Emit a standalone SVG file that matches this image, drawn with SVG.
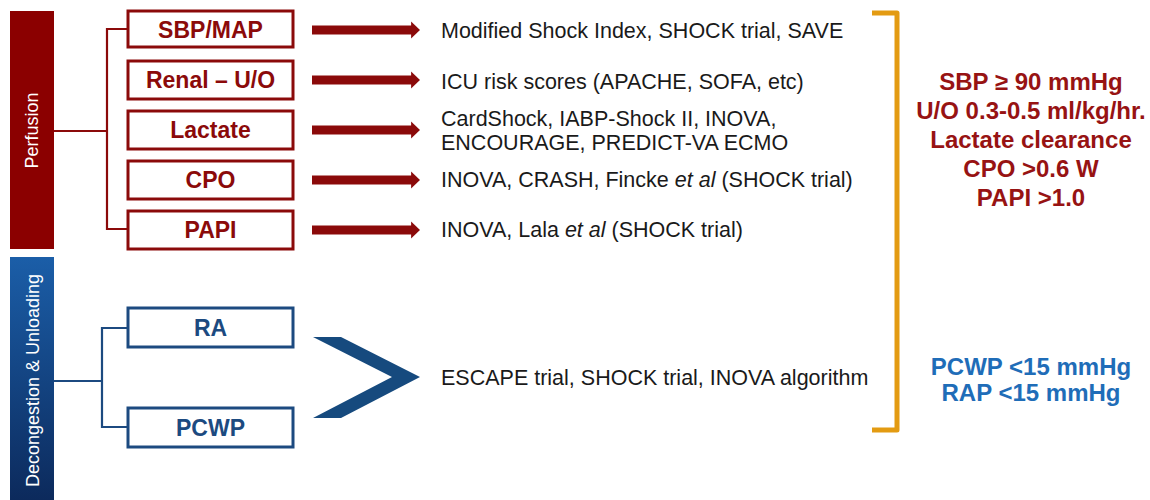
<svg xmlns="http://www.w3.org/2000/svg" width="1150" height="500" viewBox="0 0 1150 500">
  <defs>
    <linearGradient id="blueBar" x1="0" y1="0" x2="0" y2="1">
      <stop offset="0" stop-color="#1b5ea8"/>
      <stop offset="1" stop-color="#0c2a5c"/>
    </linearGradient>
    <marker id="redHead" viewBox="0 0 10 10" refX="1" refY="5" markerWidth="1" markerHeight="1.9" markerUnits="strokeWidth" orient="auto" preserveAspectRatio="none">
      <path d="M0,0 L10,5 L0,10 Z" fill="#8b0a0a"/>
    </marker>
    <style>
      .redBox { fill: #fff; stroke: #8b0a0a; stroke-width: 3; }
      .blueBox { fill: #fff; stroke: #1c4a80; stroke-width: 3; }
      .redLbl { font-family: "Liberation Sans", Arial, sans-serif; font-weight: bold; font-size: 23px; fill: #8b0a0a; text-anchor: middle; }
      .blueLbl { font-family: "Liberation Sans", Arial, sans-serif; font-weight: bold; font-size: 23px; fill: #1c4a80; text-anchor: middle; }
      .ref { font-family: "Liberation Sans", Arial, sans-serif; font-size: 21.5px; fill: #1a1a1a; }
      .barLbl { font-family: "Liberation Sans", Arial, sans-serif; font-size: 18px; fill: #fff; text-anchor: middle; }
      .goalRed { font-family: "Liberation Sans", Arial, sans-serif; font-weight: bold; font-size: 24px; fill: #971313; text-anchor: middle; }
      .goalBlue { font-family: "Liberation Sans", Arial, sans-serif; font-weight: bold; font-size: 24px; fill: #1f6db8; text-anchor: middle; }
      .redLine { fill: none; stroke: #8b0a0a; stroke-width: 2.2; }
      .blueLine { fill: none; stroke: #1c4a80; stroke-width: 2.2; }
      .arrow { stroke: #8b0a0a; stroke-width: 9; marker-end: url(#redHead); }
    </style>
  </defs>

  <rect width="1150" height="500" fill="#fff"/>

  <!-- category bars -->
  <g id="perfusion">
    <rect x="10" y="11" width="44" height="238" fill="#8b0000"/>
    <text class="barLbl" transform="translate(38,130.5) rotate(-90)">Perfusion</text>
  </g>
  <g id="decongestion">
    <rect x="10" y="257" width="44" height="243" fill="url(#blueBar)"/>
    <text class="barLbl" transform="translate(38.5,380.5) rotate(-90)">Decongestion &amp; Unloading</text>
  </g>

  <!-- tree connectors and arrows -->
  <g id="connectors">
    <path class="redLine" d="M54,131 H107 M128,29 H107 V229 H128"/>
    <path class="blueLine" d="M54,381 H102 M128,328 H102 V427 H128"/>
    <line class="arrow" x1="312" y1="30" x2="412" y2="30"/>
    <line class="arrow" x1="312" y1="80" x2="412" y2="80"/>
    <line class="arrow" x1="312" y1="130" x2="412" y2="130"/>
    <line class="arrow" x1="312" y1="180" x2="412" y2="180"/>
    <line class="arrow" x1="312" y1="230" x2="412" y2="230"/>
    <polygon points="313,337 341,337 420,377 341,418 313,418 392,377" fill="#164a7e"/>
    <path d="M872,13 H897 V430 H872" fill="none" stroke="#e39b12" stroke-width="5" stroke-linejoin="round"/>
  </g>

  <!-- parameter boxes -->
  <g id="sbp-map">
    <rect class="redBox" x="128" y="11" width="165" height="36"/>
    <text class="redLbl" x="210.5" y="38">SBP/MAP</text>
  </g>
  <g id="renal-uo">
    <rect class="redBox" x="128" y="61" width="165" height="38"/>
    <text class="redLbl" x="210.5" y="88">Renal – U/O</text>
  </g>
  <g id="lactate">
    <rect class="redBox" x="128" y="111" width="165" height="38"/>
    <text class="redLbl" x="210.5" y="138">Lactate</text>
  </g>
  <g id="cpo">
    <rect class="redBox" x="128" y="161" width="165" height="38"/>
    <text class="redLbl" x="210.5" y="188">CPO</text>
  </g>
  <g id="papi">
    <rect class="redBox" x="128" y="211" width="165" height="38"/>
    <text class="redLbl" x="210.5" y="238">PAPI</text>
  </g>
  <g id="ra">
    <rect class="blueBox" x="128" y="308" width="165" height="39"/>
    <text class="blueLbl" x="210.5" y="336">RA</text>
  </g>
  <g id="pcwp">
    <rect class="blueBox" x="128" y="408" width="165" height="39"/>
    <text class="blueLbl" x="210.5" y="436">PCWP</text>
  </g>

  <!-- supporting evidence -->
  <g id="evidence">
    <text class="ref" x="441" y="38">Modified Shock Index, SHOCK trial, SAVE</text>
    <text class="ref" x="441" y="89">ICU risk scores (APACHE, SOFA, etc)</text>
    <text class="ref" x="441" y="126">CardShock, IABP-Shock II, INOVA,</text>
    <text class="ref" x="441" y="150">ENCOURAGE, PREDICT-VA ECMO</text>
    <text class="ref" x="441" y="187">INOVA, CRASH, Fincke <tspan font-style="italic">et al</tspan> (SHOCK trial)</text>
    <text class="ref" x="441" y="237">INOVA, Lala <tspan font-style="italic">et al</tspan> (SHOCK trial)</text>
    <text class="ref" x="441" y="385">ESCAPE trial, SHOCK trial, INOVA algorithm</text>
  </g>

  <!-- targets -->
  <g id="targets">
    <text class="goalRed" x="1031" y="90">SBP ≥ 90 mmHg</text>
    <text class="goalRed" x="1031" y="119">U/O 0.3-0.5 ml/kg/hr.</text>
    <text class="goalRed" x="1031" y="148">Lactate clearance</text>
    <text class="goalRed" x="1031" y="177">CPO &gt;0.6 W</text>
    <text class="goalRed" x="1031" y="206">PAPI &gt;1.0</text>
    <text class="goalBlue" x="1031" y="375">PCWP &lt;15 mmHg</text>
    <text class="goalBlue" x="1031" y="401">RAP &lt;15 mmHg</text>
  </g>
</svg>
